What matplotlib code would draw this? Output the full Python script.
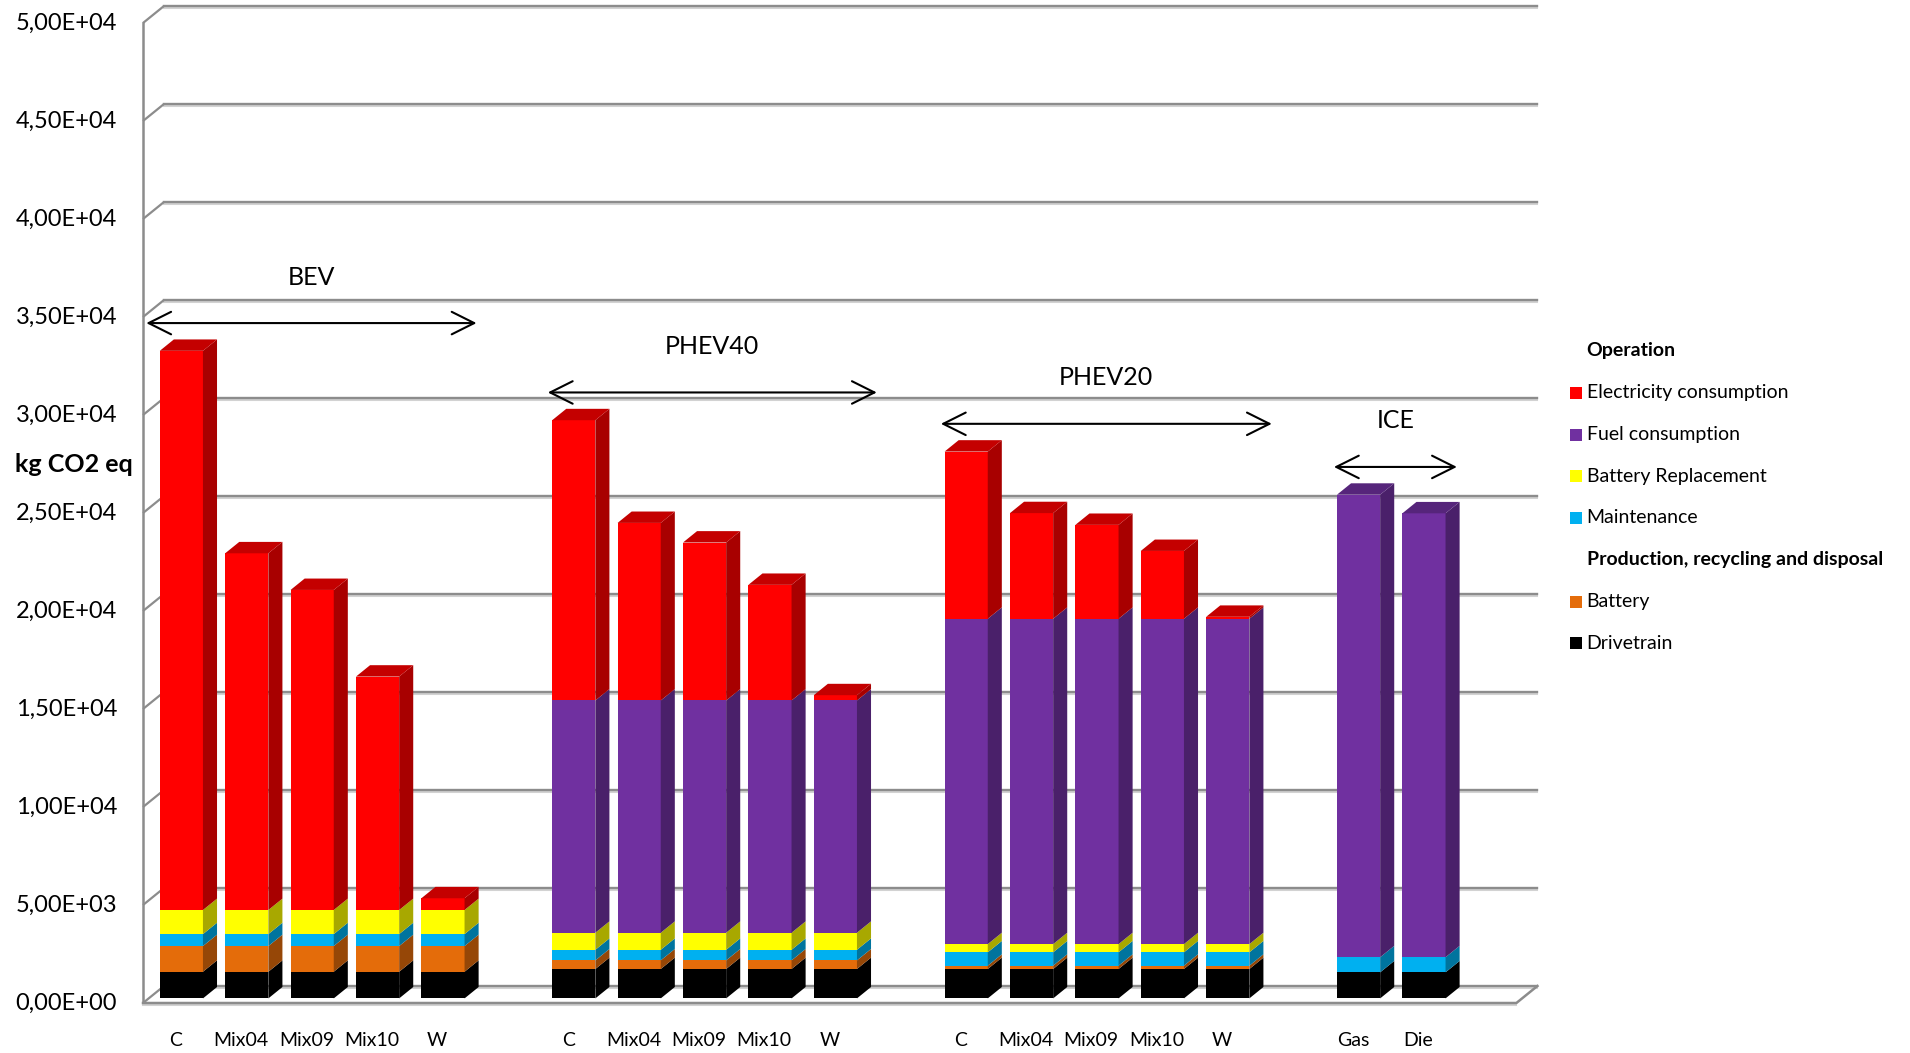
import matplotlib
matplotlib.use("Agg")
import matplotlib.pyplot as plt
from matplotlib.patches import Polygon
from matplotlib.colors import to_rgb

plt.rcParams['font.family'] = ['Lato', 'DejaVu Sans']

# --- data (kg CO2 eq per vehicle) ---
groups = ['BEV', 'PHEV40', 'PHEV20', 'ICE']
group_sizes = [5, 5, 5, 2]
scenarios = ['C', 'Mix04', 'Mix09', 'Mix10', 'W',
             'C', 'Mix04', 'Mix09', 'Mix10', 'W',
             'C', 'Mix04', 'Mix09', 'Mix10', 'W',
             'Gas', 'Die']

drivetrain = [1360, 1360, 1360, 1360, 1360,
              1500, 1500, 1500, 1500, 1500,
              1500, 1500, 1500, 1500, 1500,
              1330, 1330]
battery = [1310, 1310, 1310, 1310, 1310,
           440, 440, 440, 440, 440,
           170, 170, 170, 170, 170,
           0, 0]
maintenance = [610, 610, 610, 610, 610,
               540, 540, 540, 540, 540,
               680, 680, 680, 680, 680,
               770, 770]
battery_repl = [1230, 1230, 1230, 1230, 1230,
                870, 870, 870, 870, 870,
                420, 420, 420, 420, 420,
                0, 0]
fuel = [0, 0, 0, 0, 0,
        11850, 11850, 11850, 11850, 11850,
        16600, 16600, 16600, 16600, 16600,
        23600, 22650]
electricity = [28530, 18200, 16330, 11910, 600,
               14300, 9060, 8060, 5900, 270,
               8530, 5390, 4790, 3460, 100,
               0, 0]

# stacking order, bottom to top
series = [
    ('Drivetrain', drivetrain, '#000000'),
    ('Battery', battery, '#E46C0A'),
    ('Maintenance', maintenance, '#00B0F0'),
    ('Battery Replacement', battery_repl, '#FFFF00'),
    ('Fuel consumption', fuel, '#7030A0'),
    ('Electricity consumption', electricity, '#FF0000'),
]

y_ticks = [0, 5000, 10000, 15000, 20000, 25000, 30000, 35000, 40000, 45000, 50000]
y_tick_labels = ['0,00E+00', '5,00E+03', '1,00E+04', '1,50E+04', '2,00E+04', '2,50E+04',
                 '3,00E+04', '3,50E+04', '4,00E+04', '4,50E+04', '5,00E+04']

# --- layout of the pseudo-3D frame ---
W_PX, H_PX = 1910, 1053
X0_PX, CAT_PX = 143, 65.4        # front y-axis position, width of one category
Y0_PX, KG_PX = 1003, 980 / 50000  # front zero line, pixels per kg
N_SLOTS = 21
DX, DY = 21 / CAT_PX, 17 / KG_PX  # depth offset of the back wall
Z_FRONT, Z_BACK = 0.27, 0.94      # bar depth range
BAR_W = 0.66
GRID = '#8c8c8c'
GRID_LIGHT = '#d2d2d2'
SHADE = 2 / KG_PX


def proj(x, y, z):
    return x + z * DX, y + z * DY


def shade(color, f):
    r, g, b = to_rgb(color)
    return (r * f, g * f, b * f)


fig = plt.figure(figsize=(W_PX / 100, H_PX / 100), dpi=100)
ax = fig.add_axes([0, 0, 1, 1])
ax.set_xlim(-X0_PX / CAT_PX, (W_PX - X0_PX) / CAT_PX)
ax.set_ylim(-(H_PX - Y0_PX) / KG_PX, Y0_PX / KG_PX)
ax.axis('off')

# back wall gridlines and the little diagonal ticks from the front axis
for v in y_ticks:
    ax.plot([DX, N_SLOTS + DX], [v + DY - SHADE, v + DY - SHADE], color=GRID_LIGHT, lw=1.5, zorder=1)
    ax.plot([DX, N_SLOTS + DX], [v + DY, v + DY], color=GRID, lw=1.7, zorder=1)
    ax.plot([0, DX], [v, v + DY], color=GRID, lw=1.6, zorder=1, solid_capstyle='butt')

# front axis and floor
ax.plot([0, 0], [0, y_ticks[-1]], color=GRID, lw=1.8, zorder=2)
ax.plot([0, N_SLOTS], [-SHADE, -SHADE], color=GRID_LIGHT, lw=1.5, zorder=2)
ax.plot([0, N_SLOTS, N_SLOTS + DX], [0, 0, DY], color=GRID, lw=1.8, zorder=2)

# bar slot positions: one empty slot after each group
slots = []
pos = 0
for size in group_sizes:
    slots.extend(range(pos, pos + size))
    pos += size + 1

totals = []
for i, slot in enumerate(slots):
    xl = slot + 0.5 - BAR_W / 2
    xr = xl + BAR_W
    base = 0
    top_color = None
    for name, values, color in series:
        v = values[i]
        if v <= 0:
            continue
        top = base + v
        front = [proj(xl, base, Z_FRONT), proj(xr, base, Z_FRONT),
                 proj(xr, top, Z_FRONT), proj(xl, top, Z_FRONT)]
        side = [proj(xr, base, Z_FRONT), proj(xr, base, Z_BACK),
                proj(xr, top, Z_BACK), proj(xr, top, Z_FRONT)]
        ax.add_patch(Polygon(front, closed=True, facecolor=color, edgecolor='none', zorder=5))
        ax.add_patch(Polygon(side, closed=True, facecolor=shade(color, 0.66), edgecolor='none', zorder=5))
        base = top
        top_color = color
    lid = [proj(xl, base, Z_FRONT), proj(xr, base, Z_FRONT),
           proj(xr, base, Z_BACK), proj(xl, base, Z_BACK)]
    ax.add_patch(Polygon(lid, closed=True, facecolor=shade(top_color, 0.77), edgecolor='none', zorder=5))
    totals.append(base)

# y tick labels
for v, lab in zip(y_ticks, y_tick_labels):
    ax.text(-26 / CAT_PX, v, lab, ha='right', va='center', fontsize=17)

ax.text(-128 / CAT_PX, 27450, 'kg CO2 eq', ha='left', va='center', fontsize=18, fontweight='bold')

# category labels
for i, slot in enumerate(slots):
    ax.text(slot + 0.5, -37 / KG_PX, scenarios[i], ha='center', va='center', fontsize=14)

# group arrows
arrow_spans = [(0.05, 5.1), (6.19, 11.22), (12.2, 17.26), (18.21, 20.09)]
start = 0
for g, size, (a, b) in zip(groups, group_sizes, arrow_spans):
    ymax = max(totals[start:start + size])
    start += size
    ya = ymax + 1650
    ax.annotate('', xy=(a, ya), xytext=(b, ya),
                arrowprops=dict(arrowstyle='<->,head_length=0.9,head_width=0.45',
                                mutation_scale=18, lw=1.5, color='black',
                                shrinkA=0, shrinkB=0), zorder=6)
    ax.text((a + b) / 2, ya + 2350, g, ha='center', va='center', fontsize=18)

# legend with section headings
legend_rows = [
    ('Operation', None),
    ('Electricity consumption', '#FF0000'),
    ('Fuel consumption', '#7030A0'),
    ('Battery Replacement', '#FFFF00'),
    ('Maintenance', '#00B0F0'),
    ('Production, recycling and disposal', None),
    ('Battery', '#E46C0A'),
    ('Drivetrain', '#000000'),
]
for k, (text, color) in enumerate(legend_rows):
    y_px = 351 + k * 41.75
    fy = 1 - y_px / H_PX
    if color is None:
        fig.text(1586.5 / W_PX, fy, text, ha='left', va='center', fontsize=14, fontweight='bold')
    else:
        fig.patches.append(plt.Rectangle((1570 / W_PX, fy - 6 / H_PX), 12 / W_PX, 12 / H_PX,
                                         transform=fig.transFigure, facecolor=color,
                                         edgecolor='none'))
        fig.text(1586.5 / W_PX, fy, text, ha='left', va='center', fontsize=14)

fig.savefig('out.png', dpi=100)
